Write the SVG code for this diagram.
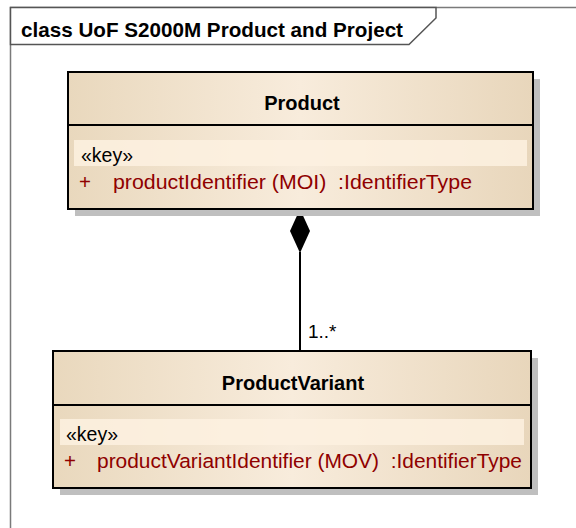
<svg xmlns="http://www.w3.org/2000/svg" width="576" height="528" viewBox="0 0 576 528">
  <defs>
    <linearGradient id="classFill" x1="0" y1="0" x2="1" y2="0">
      <stop offset="0" stop-color="#e9d8bd"/>
      <stop offset="0.5" stop-color="#f8ecdc"/>
      <stop offset="1" stop-color="#e8d6bb"/>
    </linearGradient>
    <style>
      .frame { fill: none; stroke: #7a7a7a; stroke-width: 1.5; }
      .tab { fill: #ffffff; stroke: #555555; stroke-width: 1.5; }
      .frameTitle { font-family: "Liberation Sans", Arial, sans-serif; font-weight: bold; font-size: 20.5px; fill: #000000; }
      .shadow { fill: #bfbfbf; }
      .box { fill: url(#classFill); stroke: #000000; stroke-width: 2; }
      .sep { stroke: #000000; stroke-width: 2; }
      .keyRow { fill: #fdf1e0; opacity: 0.85; }
      .name { font-family: "Liberation Sans", Arial, sans-serif; font-weight: bold; font-size: 20px; fill: #000000; text-anchor: middle; }
      .stereo { font-family: "Liberation Sans", Arial, sans-serif; font-size: 19.5px; fill: #000000; }
      .attr { font-family: "Liberation Sans", Arial, sans-serif; font-size: 20.5px; fill: #8f0000; white-space: pre; }
      .edge { stroke: #000000; stroke-width: 2; fill: none; }
      .mult { font-family: "Liberation Sans", Arial, sans-serif; font-size: 19px; fill: #000000; }
    </style>
  </defs>

  <rect width="576" height="528" fill="#ffffff"/>

  <!-- diagram frame with its name tab -->
  <g id="frame">
    <path class="frame" d="M10.5 540 V7.5 H590"/>
    <path class="tab" d="M10.5 7.5 H436 V18 L409 44.5 H10.5 Z"/>
    <text class="frameTitle" x="21" y="37" textLength="382" lengthAdjust="spacingAndGlyphs">class UoF S2000M Product and Project</text>
  </g>

  <!-- composition: Product (whole) to ProductVariant (part) -->
  <g id="connectors">
    <line class="edge" x1="300" y1="252" x2="300" y2="351"/>
    <polygon points="300,209 310,231 300,253 290,231" fill="#000000"/>
    <text class="mult" x="308" y="338">1..*</text>
  </g>

  <g id="Product">
    <rect class="shadow" x="75" y="79" width="465" height="137"/>
    <rect class="box" x="68" y="72" width="465" height="137"/>
    <line class="sep" x1="68" y1="125" x2="533" y2="125"/>
    <rect class="keyRow" x="74" y="140" width="453" height="26"/>
    <text class="name" x="302" y="110">Product</text>
    <text class="stereo" x="81" y="162">«key»</text>
    <text class="attr" x="79" y="189">+</text>
    <text class="attr" x="113" y="189" xml:space="preserve" textLength="359" lengthAdjust="spacingAndGlyphs">productIdentifier (MOI)  :IdentifierType</text>
  </g>

  <g id="ProductVariant">
    <rect class="shadow" x="60" y="358" width="478" height="137"/>
    <rect class="box" x="53" y="351" width="478" height="137"/>
    <line class="sep" x1="53" y1="405" x2="531" y2="405"/>
    <rect class="keyRow" x="60" y="419" width="464" height="26"/>
    <text class="name" x="293" y="390">ProductVariant</text>
    <text class="stereo" x="66" y="441">«key»</text>
    <text class="attr" x="64" y="468">+</text>
    <text class="attr" x="97" y="468" xml:space="preserve" textLength="425" lengthAdjust="spacingAndGlyphs">productVariantIdentifier (MOV)  :IdentifierType</text>
  </g>
</svg>
